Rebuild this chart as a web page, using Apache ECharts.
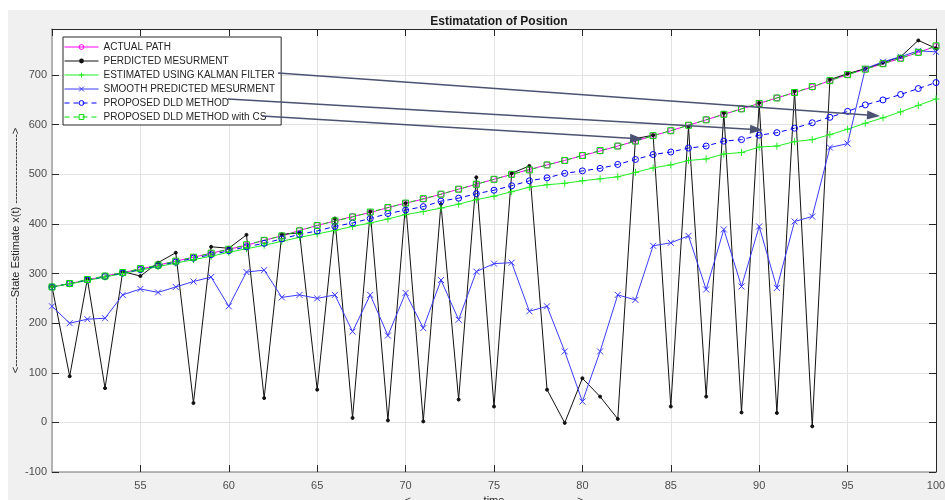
<!DOCTYPE html>
<html><head><meta charset="utf-8">
<script src="https://cdn.jsdelivr.net/npm/echarts@6/dist/echarts.min.js"></script>
<style>html,body{margin:0;padding:0;background:#fff}#c{width:945px;height:500px}</style>
</head><body><div id="c"></div>
<script>
// ---------- data ----------
const xValues = [50,51,52,53,54,55,56,57,58,59,60,61,62,63,64,65,66,67,68,69,70,71,72,73,74,75,76,77,78,79,80,81,82,83,84,85,86,87,88,89,90,91,92,93,94,95,96,97,98,99,100];
const actualPath = [273,280,287,295,302,309,317,325,333,341,349,357,367,376,387,397,406,415,423,433,442,450,460,470,480,490,500,510,519,528,538,547,557,567,578,588,599,610,621,632,643,654,665,676,689,701,712,723,734,746,758];
const predicted = [274,93,289,69,304,295,322,342,39,354,351,378,49,379,382,66,411,9,425,4,442,2,440,46,494,32,502,517,66,-1,89,52,7,572,579,32,596,52,624,20,644,19,668,-8,691,703,713,725,737,770,754];
const kalman = [273,279,286,293,300,307,314,321,328,335,343,350,357,365,373,380,387,395,402,410,419,425,432,440,449,456,465,474,479,482,487,491,495,504,513,519,528,531,541,544,555,557,566,570,580,591,603,614,626,639,652];
const smoothPred = [234,200,208,210,257,269,262,273,284,293,234,303,307,252,257,250,257,183,257,175,261,190,287,207,304,320,322,224,234,143,42,143,257,247,356,362,376,268,389,274,395,271,405,415,554,562,713,727,737,749,747];
const dld = [273,280,287,294,301,308,316,323,331,338,346,354,361,370,379,386,395,402,411,421,428,435,446,452,461,468,477,487,493,502,507,512,520,530,540,545,553,557,567,570,579,584,593,604,615,627,640,650,661,673,685];
const dldCS = [273,280,288,295,302,310,317,325,333,341,349,358,367,376,386,397,406,414,424,433,442,451,460,470,480,490,500,509,519,528,538,548,557,567,578,588,599,610,621,632,643,654,665,677,689,701,712,723,734,746,759];
const seriesNames = ['ACTUAL PATH','PERDICTED MESURMENT','ESTIMATED USING KALMAN FILTER','SMOOTH PREDICTED MESURMENT','PROPOSED DLD METHOD','PROPOSED DLD METHOD with CS'];
const xTickMin = 50, xTickMax = 100, xTickStep = 5;
const yTickMin = -100, yTickMax = 793, yTickStep = 100;
const titleText = 'Estimatation of Position';
const yName = '<' + '-'.repeat(19) + 'State Estimate x(t) ' + '-'.repeat(19) + '>';
const xName = '<' + '-'.repeat(19) + ' time ' + '-'.repeat(19) + '>';

// ---------- chart ----------
const FONT = '"Liberation Sans", Arial, Helvetica, sans-serif';
const symX = 'path://M0,0L10,10M10,0L0,10';
const symPlus = 'path://M5,0L5,10M0,5L10,5';
function pts(arr){ return xValues.map((x,i)=>[x,arr[i]]); }

const chart = echarts.init(document.getElementById('c'), null, {renderer:'canvas'});

const styles = [
  {color:'#ff00ff', symbol:'circle', size:6, dashed:false, filled:false},
  {color:'#111111', symbol:'circle', size:3, dashed:false, filled:true},
  {color:'#22ee22', symbol:symPlus, size:7, dashed:false, filled:false},
  {color:'#3b3bff', symbol:symX, size:6, dashed:false, filled:false},
  {color:'#0000ff', symbol:'circle', size:6, dashed:true, filled:false},
  {color:'#00dd00', symbol:'rect', size:6, dashed:true, filled:false}
];
const seriesData = [actualPath, predicted, kalman, smoothPred, dld, dldCS];

function itemStyleOf(s){
  return s.filled ? {color:s.color, borderColor:s.color, borderWidth:1}
                  : {color:'rgba(0,0,0,0)', borderColor:s.color, borderWidth:1};
}

const series = seriesNames.map((name,i)=>{
  const s = styles[i];
  return {
    name, type:'line', data:pts(seriesData[i]), symbol:s.symbol, symbolSize:s.size, showAllSymbol:true,
    animation:false, color:s.color,
    lineStyle:{color:s.color, width:1, type: s.dashed ? [5,4] : 'solid'},
    itemStyle:itemStyleOf(s),
    emphasis:{disabled:true}
  };
});

const legendData = seriesNames.map((name,i)=>{
  const s = styles[i];
  const d = {name, itemStyle:itemStyleOf(s), lineStyle:{color:s.color, width:1, type: s.dashed ? [5,4] : 'solid'}};
  if (s.filled) d.itemStyle = {color:s.color, borderColor:s.color, borderWidth:0, opacity:1};
  return d;
});

const arrows = [[278,73,880,116],[228,99,763,130],[262,116,643,139]];
const arrowGraphics = [];
arrows.forEach(a=>{
  const [x1,y1,x2,y2] = a;
  const dx=x2-x1, dy=y2-y1, L=Math.hypot(dx,dy), ux=dx/L, uy=dy/L;
  const hl=13, hw=4.5;
  const bx=x2-ux*hl, by=y2-uy*hl;
  arrowGraphics.push({type:'line', shape:{x1,y1,x2:bx,y2:by}, style:{stroke:'#4b5272', lineWidth:1.5}, z:100});
  arrowGraphics.push({type:'polygon', shape:{points:[[x2,y2],[bx-uy*hw,by+ux*hw],[bx+uy*hw,by-ux*hw]]}, style:{fill:'#4b5272'}, z:100});
});

const option = {
  backgroundColor:'#f0f0f0',
  animation:false,
  title:{text:titleText, left:494, top:11, textAlign:'center',
    textStyle:{fontFamily:FONT, fontSize:12, fontWeight:'bold', color:'#1a1a1a'}},
  grid:{left:52, right:9, top:29, bottom:28, show:true, backgroundColor:'#ffffff', borderWidth:0,
    containLabel:false, outerBoundsMode:'none'},
  legend:{
    data:legendData, orient:'vertical', left:63, top:37,
    itemWidth:34, itemHeight:6, itemGap:4, padding:[5,6,3,1],
    backgroundColor:'#ffffff', borderColor:'#262626', borderWidth:1, borderRadius:0,
    selectedMode:false,
    lineStyle:{width:1},
    textStyle:{fontFamily:FONT, fontSize:10, color:'#262626'}
  },
  xAxis:[{
    type:'value', min:xTickMin, max:xTickMax, interval:xTickStep, position:'bottom',
    name:xName, nameLocation:'middle', nameGap:23, nameMoveOverlap:false,
    nameTextStyle:{fontFamily:FONT, fontSize:11, color:'#262626'},
    axisLine:{show:true, onZero:false, lineStyle:{color:'#a0a0a0', width:1.5}},
    axisTick:{show:true, inside:true, length:7, lineStyle:{color:'#262626'}},
    axisLabel:{showMinLabel:false, fontFamily:FONT, fontSize:11, color:'#4d4d4d', margin:8},
    splitLine:{show:true, lineStyle:{color:'#e3e3e3', width:1}}
  },{
    type:'value', min:xTickMin, max:xTickMax, interval:xTickStep, position:'top',
    axisLine:{show:true, onZero:false, lineStyle:{color:'#262626', width:1}},
    axisTick:{show:true, inside:true, length:7, lineStyle:{color:'#262626'}},
    axisLabel:{show:false}, splitLine:{show:false}
  }],
  yAxis:[{
    type:'value', min:yTickMin, max:yTickMax, interval:yTickStep, position:'left',
    name:yName, nameLocation:'middle', nameGap:31, nameRotate:90, nameMoveOverlap:false,
    nameTextStyle:{fontFamily:FONT, fontSize:11, color:'#262626'},
    axisLine:{show:true, onZero:false, lineStyle:{color:'#a0a0a0', width:1.5}},
    axisTick:{show:true, inside:true, length:7, lineStyle:{color:'#262626'}},
    axisLabel:{showMaxLabel:false, fontFamily:FONT, fontSize:11, color:'#4d4d4d', margin:5},
    splitLine:{show:true, lineStyle:{color:'#e3e3e3', width:1}}
  },{
    type:'value', min:yTickMin, max:yTickMax, interval:yTickStep, position:'right',
    axisLine:{show:true, onZero:false, lineStyle:{color:'#262626', width:1}},
    axisTick:{show:true, inside:true, length:7, lineStyle:{color:'#262626'}},
    axisLabel:{show:false}, splitLine:{show:false}
  }],
  graphic:[
    {type:'rect', shape:{x:0,y:0,width:945,height:10}, style:{fill:'#ffffff'}, z:-10},
    {type:'rect', shape:{x:0,y:0,width:8,height:500}, style:{fill:'#ffffff'}, z:-10}
  ].concat(arrowGraphics),
  series
};
chart.setOption(option);
</script>
</body></html>
